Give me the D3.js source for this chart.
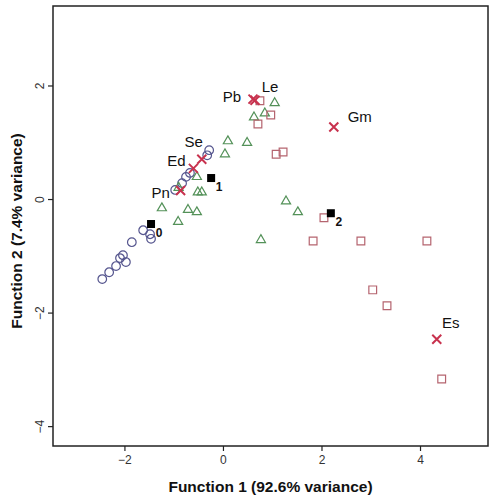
<!DOCTYPE html>
<html>
<head>
<meta charset="utf-8">
<script src="https://cdn.jsdelivr.net/npm/d3@7"></script>
<style>
  html, body { margin: 0; padding: 0; background: #fff; }
  svg { display: block; }
</style>
</head>
<body>
<svg id="chart" width="491" height="497"></svg>
<script>
// ---- data ----
const xTicks = [-2, 0, 2, 4];
const yTicks = [2, 0, -2, -4];
const xTitle = "Function 1 (92.6% variance)";
const yTitle = "Function 2 (7.4% variance)";

// group 0 (circles)
const g0x = [-2.45, -2.31, -2.17, -2.09, -1.97, -2.03, -1.85, -1.62, -1.48, -1.46, -0.97, -0.83, -0.75, -0.67, -0.32, -0.28];
const g0y = [-1.41, -1.29, -1.18, -1.04, -1.11, -0.99, -0.76, -0.55, -0.62, -0.70, 0.16, 0.28, 0.39, 0.46, 0.77, 0.86];
// group 1 (triangles)
const g1x = [0.10, 0.04, -0.53, -0.51, -0.43, -1.24, -0.71, -0.53, -0.91, 0.49, 0.63, 0.85, 1.05, 1.28, 1.52, 0.77, -0.90];
const g1y = [1.02, 0.79, 0.39, 0.12, 0.12, -0.16, -0.19, -0.23, -0.40, 0.99, 1.44, 1.51, 1.69, -0.04, -0.23, -0.72, 0.20];
// group 2 (squares)
const g2x = [0.75, 0.71, 0.97, 1.08, 1.22, 2.05, 1.83, 2.80, 4.14, 3.04, 3.33, 4.44];
const g2y = [1.73, 1.32, 1.48, 0.79, 0.83, -0.33, -0.74, -0.74, -0.74, -1.60, -1.88, -3.17];
// group centroids
const centroidLabels = ["0", "1", "2"];
const centroidX = [-1.46, -0.24, 2.19];
const centroidY = [-0.44, 0.37, -0.25];
// labelled reference points (X marks)
const refNames = ["Pb", "Le", "Gm", "Se", "Ed", "Pn", "Es"];
const refX = [0.61, 0.65, 2.25, -0.43, -0.60, -0.86, 4.34];
const refY = [1.76, 1.74, 1.27, 0.70, 0.54, 0.15, -2.47];

// ---- layout (pixel offsets for labels, not data) ----
const refLabelOffset = {
  Pb: [-21, -3], Le: [15, -14], Gm: [26, -10], Se: [-8, -18],
  Ed: [-17, -8], Pn: [-20, 2], Es: [14, -17]
};
const centroidLabelOffset = [8, 9];

const svg = d3.select("#chart");
const W = 491, H = 497;
const mLeft = 53, mRight = 488, mTop = 6, mBottom = 446;

const x = d3.scaleLinear().domain([-3.45, 5.38]).range([mLeft, mRight]);
const y = d3.scaleLinear().domain([-4.35, 3.40]).range([mBottom, mTop]);

svg.append("rect").attr("width", W).attr("height", H).attr("fill", "#fff");

// axes
const xAxis = svg.append("g")
  .attr("transform", `translate(0,${mBottom})`)
  .call(d3.axisBottom(x).tickValues(xTicks).tickSize(5).tickPadding(4).tickFormat(d3.format("d")));
xAxis.select(".domain").remove();
xAxis.selectAll("line").attr("stroke", "#222").attr("stroke-width", 1.2);
xAxis.selectAll("text").attr("font-family", "Liberation Sans, Arial, sans-serif")
  .attr("font-size", 12).attr("fill", "#333");

const yAxis = svg.append("g")
  .attr("transform", `translate(${mLeft},0)`)
  .call(d3.axisLeft(y).tickValues(yTicks).tickSize(5).tickPadding(4).tickFormat(d3.format("d")));
yAxis.select(".domain").remove();
yAxis.selectAll("line").attr("stroke", "#222").attr("stroke-width", 1.2);
yAxis.selectAll("text")
  .attr("font-family", "Liberation Sans, Arial, sans-serif")
  .attr("font-size", 12).attr("fill", "#333")
  .attr("x", null).attr("dy", null)
  .attr("text-anchor", "middle")
  .attr("transform", "translate(-13,0) rotate(-90)")
  .attr("dominant-baseline", "central");

// frame
svg.append("rect")
  .attr("x", mLeft).attr("y", mTop)
  .attr("width", mRight - mLeft).attr("height", mBottom - mTop)
  .attr("fill", "none").attr("stroke", "#222").attr("stroke-width", 1.5);

// titles
svg.append("text")
  .attr("x", (mLeft + mRight) / 2).attr("y", 492)
  .attr("text-anchor", "middle")
  .attr("font-family", "Liberation Sans, Arial, sans-serif")
  .attr("font-weight", "bold").attr("font-size", 15.5).attr("fill", "#111")
  .text(xTitle);
svg.append("text")
  .attr("transform", `translate(22,${(mTop + mBottom) / 2 + 5}) rotate(-90)`)
  .attr("text-anchor", "middle")
  .attr("font-family", "Liberation Sans, Arial, sans-serif")
  .attr("font-weight", "bold").attr("font-size", 15.5).attr("fill", "#111")
  .text(yTitle);

const plot = svg.append("g");

function drawGroup(xs, ys, type, size, color) {
  const sym = d3.symbol().type(type).size(size);
  plot.append("g").selectAll("path")
    .data(xs.map((v, i) => [v, ys[i]]))
    .join("path")
    .attr("d", sym)
    .attr("transform", d => `translate(${x(d[0])},${y(d[1])})`)
    .attr("fill", "none")
    .attr("stroke", color)
    .attr("stroke-width", 1.2);
}
drawGroup(g0x, g0y, d3.symbolCircle, 58, "#55558e");
drawGroup(g1x, g1y, d3.symbolTriangle, 36, "#539158");
drawGroup(g2x, g2y, d3.symbolSquare, 60, "#b5646f");

// centroids
const cg = plot.append("g");
cg.selectAll("rect")
  .data(centroidX.map((v, i) => [v, centroidY[i]]))
  .join("rect")
  .attr("x", d => x(d[0]) - 4).attr("y", d => y(d[1]) - 4)
  .attr("width", 8).attr("height", 8).attr("fill", "#000");
cg.selectAll("text")
  .data(centroidLabels)
  .join("text")
  .attr("x", (d, i) => x(centroidX[i]) + centroidLabelOffset[0])
  .attr("y", (d, i) => y(centroidY[i]) + centroidLabelOffset[1])
  .attr("text-anchor", "middle").attr("dominant-baseline", "central")
  .attr("font-family", "Liberation Sans, Arial, sans-serif")
  .attr("font-weight", "bold").attr("font-size", 12).attr("fill", "#111")
  .text(d => d);

// reference X marks
const rg = plot.append("g");
const s = 4.5;
refNames.forEach((n, i) => {
  const cx = x(refX[i]), cy = y(refY[i]);
  rg.append("path")
    .attr("d", `M${cx - s},${cy - s}L${cx + s},${cy + s}M${cx - s},${cy + s}L${cx + s},${cy - s}`)
    .attr("stroke", "#c8324e").attr("stroke-width", 2).attr("fill", "none");
  const off = refLabelOffset[n];
  rg.append("text")
    .attr("x", cx + off[0]).attr("y", cy + off[1])
    .attr("text-anchor", "middle").attr("dominant-baseline", "central")
    .attr("font-family", "Liberation Sans, Arial, sans-serif")
    .attr("font-size", 15).attr("fill", "#111")
    .text(n);
});
</script>
</body>
</html>
